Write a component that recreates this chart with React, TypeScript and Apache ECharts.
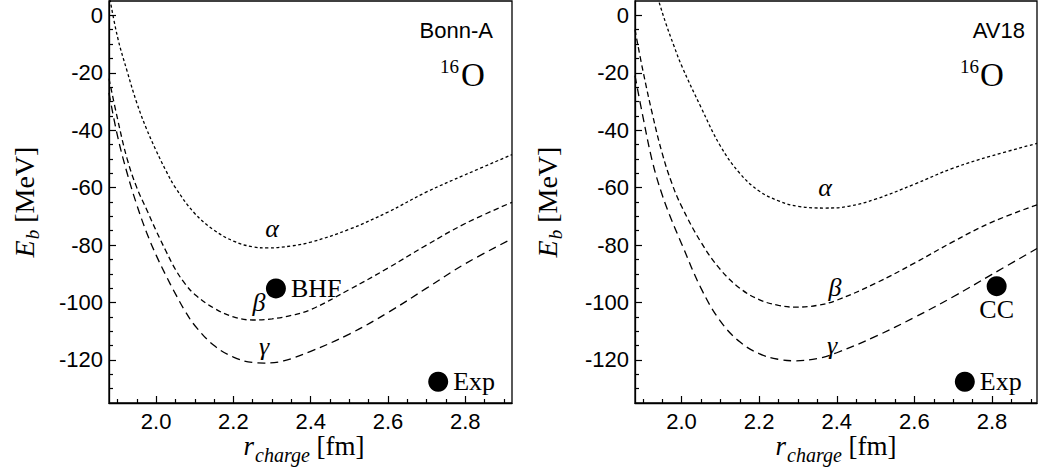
import React, { useEffect, useRef } from "react";
import * as echarts from "echarts";

// ---------- data ----------
const xMajorTicks = [2.0, 2.2, 2.4, 2.6, 2.8];
const xMinorTicks = [1.9, 1.95, 2.05, 2.1, 2.15, 2.25, 2.3, 2.35, 2.45, 2.5, 2.55, 2.65, 2.7, 2.75, 2.85, 2.9];
const yMajorTicks = [-120, -100, -80, -60, -40, -20, 0];
const yMinorTicks = [-130, -125, -115, -110, -105, -95, -90, -85, -75, -70, -65, -55, -50, -45, -35, -30, -25, -15, -10, -5];

// Bonn-A panel
const bonnAlphaR = [1.878, 1.9, 1.925, 1.95, 1.975, 2.0, 2.025, 2.05, 2.1, 2.15, 2.2, 2.25, 2.29, 2.35, 2.4, 2.5, 2.6, 2.7, 2.8, 2.921];
const bonnAlphaE = [7.5, -7.5, -19.5, -30.5, -39.5, -47.1, -54, -60, -69, -74.8, -78.6, -80.6, -81.0, -80.3, -79.0, -74.5, -68.5, -61.5, -55.5, -48.5];
const bonnBetaR = [1.878, 1.9, 1.925, 1.95, 1.975, 2.0, 2.025, 2.05, 2.075, 2.1, 2.15, 2.2, 2.25, 2.3, 2.35, 2.4, 2.5, 2.6, 2.7, 2.8, 2.921];
const bonnBetaE = [-22, -36, -50, -60, -67.5, -75, -82, -88.5, -93.5, -97.2, -102, -105, -106.1, -105.7, -104.5, -102.5, -95.5, -88, -80, -72.5, -65.1];
const bonnGammaR = [1.878, 1.9, 1.925, 1.95, 1.975, 2.0, 2.025, 2.05, 2.075, 2.1, 2.15, 2.2, 2.25, 2.28, 2.33, 2.4, 2.5, 2.6, 2.7, 2.8, 2.921];
const bonnGammaE = [-27, -42, -55, -66, -75.5, -83.5, -90.5, -97, -103, -108, -115, -119, -120.9, -121.1, -120.3, -117, -111, -103.5, -95, -86.5, -77.8];
const bonnPointNames = ["BHF", "Exp"];
const bonnPointR = [2.31, 2.73];
const bonnPointE = [-95.1, -127.6];

// AV18 panel
const av18AlphaR = [1.93, 1.94, 1.96, 1.98, 2.0, 2.05, 2.1, 2.15, 2.2, 2.25, 2.3, 2.37, 2.43, 2.5, 2.6, 2.7, 2.8, 2.916];
const av18AlphaE = [10, 5.5, -3, -10.5, -17.5, -32, -45.5, -55, -61.2, -64.6, -66.5, -67.1, -66.5, -64, -58.8, -53.2, -48.9, -44.6];
const av18BetaR = [1.88, 1.9, 1.925, 1.95, 1.975, 2.0, 2.05, 2.1, 2.15, 2.2, 2.25, 2.29, 2.35, 2.4, 2.5, 2.6, 2.7, 2.8, 2.916];
const av18BetaE = [-5, -19, -34.5, -48, -58.5, -66.5, -79, -88.5, -95, -99, -101, -101.6, -101, -99.2, -93.3, -86.3, -78.8, -72, -66];
const av18GammaR = [1.88, 1.9, 1.925, 1.95, 1.975, 2.0, 2.05, 2.1, 2.15, 2.2, 2.25, 2.29, 2.35, 2.4, 2.5, 2.6, 2.7, 2.8, 2.916];
const av18GammaE = [-21, -35, -51, -62.5, -71.5, -79.5, -95, -106.5, -113.7, -117.8, -119.8, -120.3, -119.5, -117.5, -111.8, -105.2, -98, -90.2, -81.2];
const av18PointNames = ["CC", "Exp"];
const av18PointR = [2.812, 2.73];
const av18PointE = [-94.3, -127.6];

const zip = (xs: number[], ys: number[]) => xs.map((x, i) => [x, ys[i]]);

const SANS = "Liberation Sans, Arial, sans-serif";
const SERIF = "Liberation Serif, Times New Roman, serif";

function axesFor(gridIndex: number, xmin: number, xmax: number) {
  const tickStyle = { color: "#000", width: 1.2 };
  const xAxes = [
    {
      gridIndex, type: "value", min: xmin, max: xmax, position: "bottom",
      axisLine: { show: true, onZero: false, lineStyle: { color: "#000", width: 1.3 } },
      axisTick: { show: true, inside: true, length: 7, customValues: xMajorTicks, lineStyle: tickStyle },
      axisLabel: { show: true, customValues: xMajorTicks, formatter: (v: number) => v.toFixed(1), color: "#000", fontSize: 22, fontFamily: SANS, margin: 7 },
      splitLine: { show: false },
    },
    {
      gridIndex, type: "value", min: xmin, max: xmax, position: "bottom",
      axisLine: { show: false, onZero: false },
      axisTick: { show: true, inside: true, length: 4, customValues: xMinorTicks, lineStyle: tickStyle },
      axisLabel: { show: false },
      splitLine: { show: false },
    },
  ];
  const yAxes = [
    {
      gridIndex, type: "value", min: -135, max: 5, position: "left",
      axisLine: { show: true, onZero: false, lineStyle: { color: "#000", width: 1.3 } },
      axisTick: { show: true, inside: true, length: 7, customValues: yMajorTicks, lineStyle: tickStyle },
      axisLabel: { show: true, customValues: yMajorTicks, formatter: (v: number) => String(Math.round(v)), color: "#000", fontSize: 22, fontFamily: SANS, margin: 6 },
      splitLine: { show: false },
    },
    {
      gridIndex, type: "value", min: -135, max: 5, position: "left",
      axisLine: { show: false, onZero: false },
      axisTick: { show: true, inside: true, length: 4, customValues: yMinorTicks, lineStyle: tickStyle },
      axisLabel: { show: false },
      splitLine: { show: false },
    },
  ];
  return { xAxes, yAxes };
}

function curve(name: string, xi: number, yi: number, data: number[][], dash: number[]) {
  return {
    name, type: "line", xAxisIndex: xi, yAxisIndex: yi, data, smooth: 0.4, showSymbol: false, symbol: "none",
    clip: true, lineStyle: { color: "#000", width: 1.3, type: dash }, silent: true,
  };
}

function points(xi: number, yi: number, names: string[], rs: number[], es: number[], positions: string[]) {
  return {
    type: "scatter", xAxisIndex: xi, yAxisIndex: yi, symbol: "circle", symbolSize: 20,
    itemStyle: { color: "#000", opacity: 1 },
    data: names.map((n, i) => ({
      name: n, value: [rs[i], es[i]],
      label: { show: true, formatter: n, position: positions[i], distance: positions[i] === "bottom" ? 0 : 5, color: "#000", opacity: 1, fontSize: 26, fontFamily: SERIF },
    })),
  };
}

function greek(x: number, y: number, t: string) {
  return { type: "text", x, y, style: { text: t, fontSize: 26, fontStyle: "italic", fontFamily: SERIF, fill: "#000", align: "center", verticalAlign: "middle" } };
}

function panelTexts(cx: number, labelX: number, nameRight: number, name: string, sixteenRight: number, oLeft: number) {
  return [
    {
      type: "text", x: labelX, y: 202, rotation: Math.PI / 2,
      style: {
        text: "{e|E}{b|b}{n| [MeV]}", align: "center", verticalAlign: "middle", fill: "#000",
        rich: {
          e: { fontSize: 28, fontStyle: "italic", fontFamily: SERIF, lineHeight: 30, verticalAlign: "top" },
          b: { fontSize: 19, fontStyle: "italic", fontFamily: SERIF, lineHeight: 19, padding: [13, 0, 0, 1], verticalAlign: "top" },
          n: { fontSize: 28, fontFamily: SERIF, lineHeight: 30, verticalAlign: "top" },
        },
      },
    },
    {
      type: "text", x: cx, y: 447,
      style: {
        text: "{r|r}{c|charge}{n| [fm]}", align: "center", verticalAlign: "middle", fill: "#000",
        rich: {
          r: { fontSize: 27, fontStyle: "italic", fontFamily: SERIF, lineHeight: 30, verticalAlign: "top" },
          c: { fontSize: 20, fontStyle: "italic", fontFamily: SERIF, lineHeight: 20, padding: [13, 0, 0, 1], verticalAlign: "top" },
          n: { fontSize: 27, fontFamily: SERIF, lineHeight: 30, verticalAlign: "top" },
        },
      },
    },
    { type: "text", x: nameRight, y: 30, style: { text: name, fontSize: 22, fontFamily: SANS, fill: "#000", align: "right", verticalAlign: "middle" } },
    { type: "text", x: sixteenRight, y: 66, style: { text: "16", fontSize: 19, fontFamily: SERIF, fill: "#000", align: "right", verticalAlign: "middle" } },
    { type: "text", x: oLeft, y: 75, style: { text: "O", fontSize: 33, fontFamily: SERIF, fill: "#000", align: "left", verticalAlign: "middle" } },
  ];
}

export default function App() {
  const ref = useRef<HTMLDivElement>(null);
  useEffect(() => {
    if (!ref.current) return;
    const chart = echarts.init(ref.current, null, { renderer: "svg" });
    const left = axesFor(0, 1.878, 2.921);
    const right = axesFor(1, 1.88, 2.916);
    const option: any = {
      animation: false,
      backgroundColor: "#fff",
      grid: [
        { left: 109, top: 1, width: 403, height: 402, show: true, borderColor: "#000", borderWidth: 1.3, containLabel: false },
        { left: 635, top: 1, width: 402, height: 402, show: true, borderColor: "#000", borderWidth: 1.3, containLabel: false },
      ],
      xAxis: [...left.xAxes, ...right.xAxes],
      yAxis: [...left.yAxes, ...right.yAxes],
      series: [
        curve("α Bonn-A", 0, 0, zip(bonnAlphaR, bonnAlphaE), [3, 2.5]),
        curve("β Bonn-A", 0, 0, zip(bonnBetaR, bonnBetaE), [5.5, 3.5]),
        curve("γ Bonn-A", 0, 0, zip(bonnGammaR, bonnGammaE), [8, 5]),
        points(0, 0, bonnPointNames, bonnPointR, bonnPointE, ["right", "right"]),
        curve("α AV18", 2, 2, zip(av18AlphaR, av18AlphaE), [3, 2.5]),
        curve("β AV18", 2, 2, zip(av18BetaR, av18BetaE), [5.5, 3.5]),
        curve("γ AV18", 2, 2, zip(av18GammaR, av18GammaE), [8, 5]),
        points(2, 2, av18PointNames, av18PointR, av18PointE, ["bottom", "right"]),
      ],
      graphic: [
        ...panelTexts(304, 25, 493, "Bonn-A", 459, 461),
        ...panelTexts(836, 548, 1025, "AV18", 979, 980),
        greek(272, 228, "α"), greek(259, 302, "β"), greek(264, 346, "γ"),
        greek(825, 187, "α"), greek(835, 287, "β"), greek(832, 345, "γ"),
      ],
    };
    chart.setOption(option);
    return () => chart.dispose();
  }, []);
  return <div ref={ref} style={{ position: "fixed", left: 0, top: 0, width: 1038, height: 471, background: "#fff" }} />;
}
